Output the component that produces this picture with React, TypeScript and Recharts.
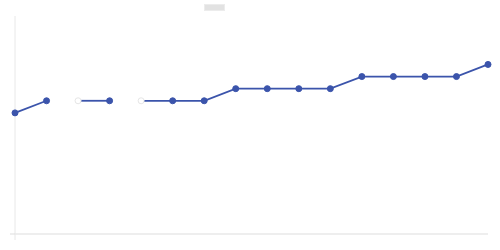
import React from "react";
import { Legend, Line, LineChart, XAxis, YAxis } from "recharts";

const categories = ["1", "2", "3", "4", "5", "6", "7", "8", "9", "10", "11", "12", "13", "14", "15", "16"];
const values = [10, 11, 11, 11, 11, 11, 11, 12, 12, 12, 12, 13, 13, 13, 13, 14];
// which drawn segment each point belongs to
const segments = [0, 0, 1, 1, 2, 2, 2, 2, 2, 2, 2, 2, 2, 2, 2, 2];
// points drawn as faint hollow markers
const hollow = [2, 4];

const segmentKeys = ["s0", "s1", "s2"];

const data = categories.map((name, i) => {
	const row: Record<string, number | string | null> = { name };
	segmentKeys.forEach((k, s) => {
		row[k] = segments[i] === s ? values[i] : null;
	});
	return row;
});

const COLOR = "#3b54ab";

function Dot(props: any) {
	const { cx, cy, index, value } = props;
	if (value == null || cx == null || cy == null) return <g key={index} />;
	if (hollow.includes(index)) {
		return <circle key={index} cx={cx} cy={cy} r={3} fill="#fff" stroke="#e6e6e6" strokeWidth={1} />;
	}
	return <circle key={index} cx={cx} cy={cy} r={3} fill={COLOR} stroke={COLOR} strokeWidth={1} />;
}

function LegendBox() {
	return <div style={{ position: "absolute", left: 204, top: 4, width: 19, height: 5, background: "#e2e2e2", border: "1px solid #ececec" }} />;
}

function App() {
	return <div style={{ position: "absolute", left: 0, top: 0, width: 500, height: 250 }}>
		<LineChart width={500} height={250} data={data} margin={{ top: 16, right: 12, bottom: 15, left: 14 }}>
			<Legend content={LegendBox} wrapperStyle={{ top: 0, left: 0 }} />
			<XAxis dataKey="name" height={1} axisLine={{ stroke: "#dddddd" }} ticks={[categories[0]]} tickSize={6} tickLine={{ stroke: "#e8e8e8" }} tick={() => <g />} />
			<YAxis width={1} domain={[0, 18]} ticks={[0]} tickSize={5} axisLine={{ stroke: "#e8e8e8" }} tickLine={{ stroke: "#dddddd" }} tick={() => <g />} />
			{segmentKeys.map(k =>
				<Line key={k} dataKey={k} stroke={COLOR} strokeWidth={1.8} dot={<Dot />} activeDot={false} isAnimationActive={false} legendType="none" />
			)}
		</LineChart>
	</div>;
}

export default App;
